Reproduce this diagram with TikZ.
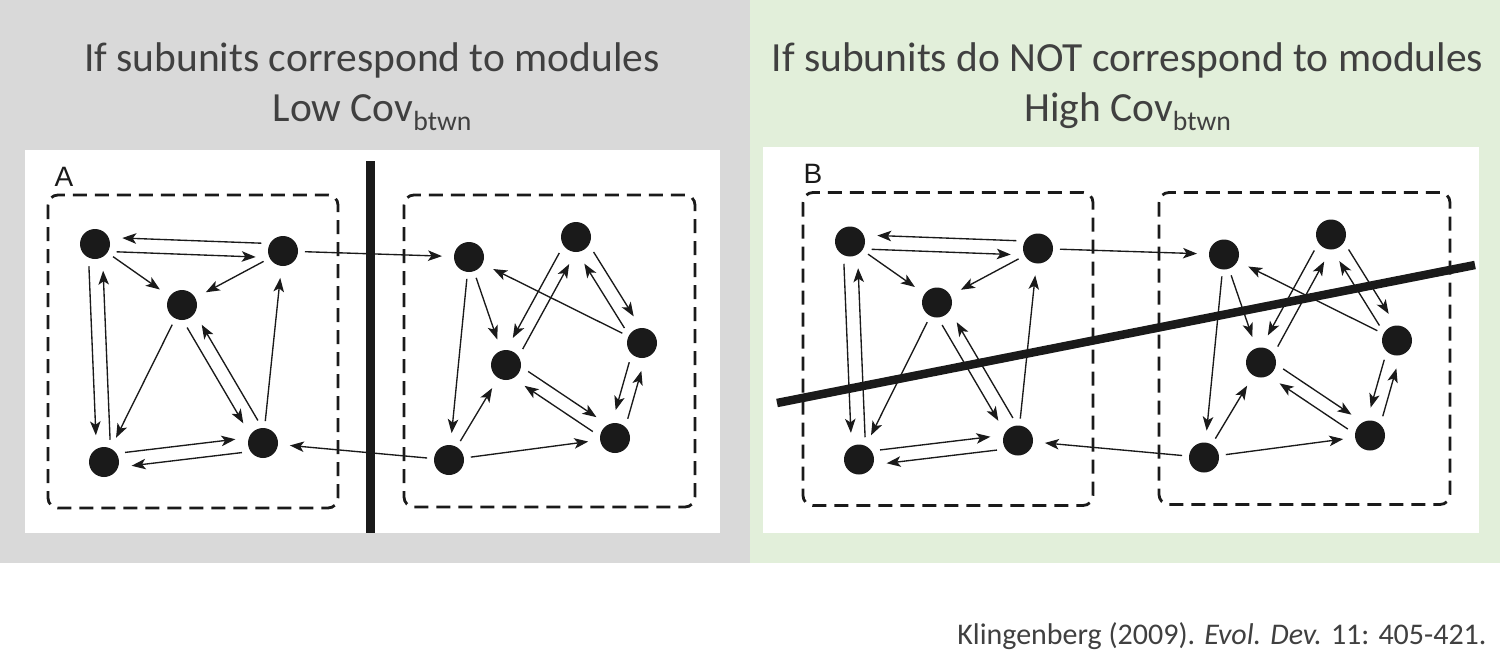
\documentclass[tikz,border=0pt]{standalone}
\usepackage{fontspec}
\setmainfont{Carlito}
\newfontfamily\labfont{Liberation Sans}
\usetikzlibrary{calc,arrows.meta}
\definecolor{bggray}{HTML}{D9D9D9}
\definecolor{bggreen}{HTML}{E2EFDA}
\definecolor{txt}{HTML}{404040}
\definecolor{ink}{HTML}{1A1A1A}
\tikzset{
  dot/.style={circle, fill=ink, draw=none, minimum size=30pt, inner sep=0pt},
  arr/.style={draw=ink, line width=1.35pt, -{Stealth[length=14pt,width=10.5pt,inset=3.5pt]}, shorten >=27pt, shorten <=22pt},
  modbox/.style={draw=ink, line width=2.8pt, dash pattern=on 14pt off 8pt, rounded corners=10pt},
  title/.style={text=txt, font=\fontsize{41.5}{50}\selectfont, anchor=base},
  panlab/.style={text=ink, font=\labfont\fontsize{28}{30}\selectfont},
  bar/.style={draw=ink, line width=9pt},
}
\newcommand\tw[3]{%
  \draw[arr] ($(#1)!#3!90:(#2)$) -- ($(#2)!#3!-90:(#1)$);
  \draw[arr] ($(#2)!#3!90:(#1)$) -- ($(#1)!#3!-90:(#2)$);
}
\newcommand\subtxt[1]{\raisebox{-9pt}{\fontsize{27.7}{30}\selectfont #1}}
\newcommand\modfig{%
  \draw[modbox] (48,195) rectangle (338,508);
  \draw[modbox] (404,195) rectangle (695,507);
  \node[dot] (A1) at (95,244) {};
  \node[dot] (A2) at (283,251) {};
  \node[dot] (A3) at (182,305) {};
  \node[dot] (A4) at (104,462) {};
  \node[dot] (A5) at (263,443) {};
  \node[dot] (B1) at (469,257) {};
  \node[dot] (B2) at (576,237) {};
  \node[dot] (B3) at (506,365) {};
  \node[dot] (B4) at (642,343) {};
  \node[dot] (B5) at (449,460) {};
  \node[dot] (B6) at (615,438) {};
  \tw{A1}{A2}{-7pt}
  \tw{A1}{A4}{-7pt}
  \tw{A3}{A5}{-7pt}
  \tw{A4}{A5}{7pt}
  \draw[arr] (A1.center) -- (A3.center);
  \draw[arr] (A2.center) -- (A3.center);
  \draw[arr] (A3.center) -- (A4.center);
  \draw[arr] (A5.center) -- (A2.center);
  \tw{B2}{B3}{-7pt}
  \tw{B2}{B4}{7pt}
  \tw{B3}{B6}{7pt}
  \tw{B4}{B6}{-7pt}
  \draw[arr] (B1.center) -- (B5.center);
  \draw[arr] (B1.center) -- (B3.center);
  \draw[arr] (B4.center) -- (B1.center);
  \draw[arr] (B5.center) -- (B3.center);
  \draw[arr] (B5.center) -- (B6.center);
  \draw[arr] (A2.center) -- (B1.center);
  \draw[arr] (B5.center) -- (A5.center);
}
\begin{document}
\begin{tikzpicture}[x=1pt,y=-1pt]
  \useasboundingbox (0,0) rectangle (1511,669);
  \fill[white] (0,0) rectangle (1511,669);
  \fill[bggray] (0,0) rectangle (750,563);
  \fill[bggreen] (750,0) rectangle (1500,563);
  \fill[white] (25,150) rectangle (720,533);
  \fill[white] (763,147) rectangle (1479,533);
  \node[title] (t1) at (372,71) {If subunits correspond to modules};
  \node[title] (t2) at (372,121) {Low Cov\subtxt{btwn}};
  \node[title] (t3) at (1127.5,71) {If subunits do NOT correspond to modules};
  \node[title] (t4) at (1127.5,121) {High Cov\subtxt{btwn}};
  \begin{scope}[name prefix=pa-]
    \modfig
    \node[panlab] (lab) at (64,177) {A};
  \end{scope}
  \begin{scope}[shift={(755,-2.5)}, name prefix=pb-]
    \modfig
    \node[panlab] (lab) at (58,176.5) {B};
  \end{scope}
  \coordinate (v1) at (370.5,161);
  \coordinate (v2) at (370.5,533);
  \draw[bar] (v1) -- (v2);
  \coordinate (d1) at (777,403);
  \coordinate (d2) at (1475,265);
  \draw[bar, line width=8.5pt] (d1) -- (d2);
  \node[text=txt, font=\fontsize{30}{36}\selectfont, anchor=base east] (cite) at (1490,644) {Klingenberg (2009). \textit{Evol. Dev.} 11: 405-421.};
\end{tikzpicture}
\end{document}
